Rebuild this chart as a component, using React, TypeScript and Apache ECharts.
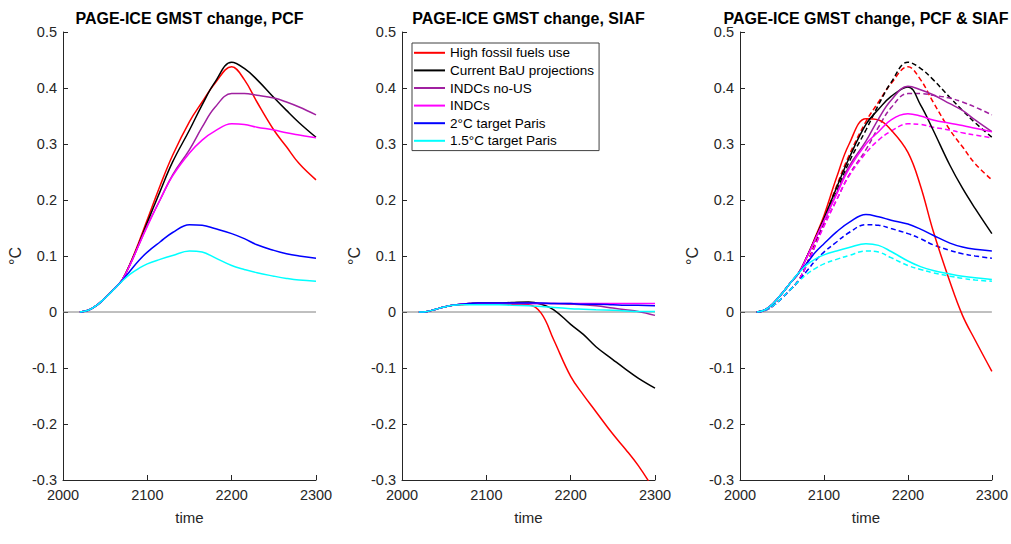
import React, { useEffect, useRef } from "react";
import * as echarts from "echarts";

const YEARS = [2020, 2030, 2040, 2050, 2060, 2070, 2080, 2090, 2100, 2115, 2130, 2150, 2165, 2180, 2200, 2215, 2230, 2250, 2265, 2280, 2300];

const NAMES = ["High fossil fuels use", "Current BaU projections", "INDCs no-US", "INDCs", "2°C target Paris", "1.5°C target Paris"];
const COLORS = ["#ff0000", "#000000", "#a020a0", "#ff00ff", "#0000ff", "#00ffff"];
const TITLES = ["PAGE-ICE GMST change, PCF", "PAGE-ICE GMST change, SIAF", "PAGE-ICE GMST change, PCF & SIAF"];

// PCF panel
const PCF_HIGH = [0, 0.003, 0.012, 0.025, 0.04, 0.057, 0.088, 0.125, 0.165, 0.225, 0.28, 0.34, 0.375, 0.408, 0.438, 0.415, 0.375, 0.325, 0.295, 0.265, 0.236];
const PCF_BAU = [0, 0.003, 0.012, 0.025, 0.04, 0.057, 0.087, 0.122, 0.16, 0.215, 0.268, 0.325, 0.37, 0.41, 0.446, 0.435, 0.415, 0.383, 0.36, 0.338, 0.312];
const PCF_NOUS = [0, 0.003, 0.012, 0.025, 0.04, 0.057, 0.086, 0.12, 0.155, 0.2, 0.245, 0.29, 0.33, 0.365, 0.39, 0.39, 0.387, 0.382, 0.375, 0.366, 0.352];
const PCF_INDC = [0, 0.003, 0.012, 0.025, 0.04, 0.057, 0.086, 0.12, 0.153, 0.2, 0.243, 0.284, 0.307, 0.323, 0.336, 0.335, 0.33, 0.325, 0.32, 0.316, 0.311];
const PCF_2C = [0, 0.003, 0.012, 0.025, 0.04, 0.056, 0.074, 0.092, 0.107, 0.125, 0.142, 0.156, 0.155, 0.149, 0.14, 0.131, 0.12, 0.11, 0.104, 0.1, 0.096];
const PCF_15C = [0, 0.003, 0.012, 0.025, 0.04, 0.055, 0.068, 0.078, 0.086, 0.094, 0.101, 0.109, 0.107, 0.097, 0.083, 0.076, 0.07, 0.064, 0.06, 0.057, 0.055];

// SIAF panel
const SIAF_HIGH = [0, 0.001, 0.005, 0.009, 0.012, 0.013, 0.014, 0.014, 0.014, 0.014, 0.014, 0.013, -0.002, -0.05, -0.115, -0.148, -0.178, -0.218, -0.245, -0.274, -0.32];
const SIAF_BAU = [0, 0.001, 0.005, 0.009, 0.012, 0.014, 0.015, 0.016, 0.016, 0.016, 0.017, 0.018, 0.014, 0.004, -0.022, -0.04, -0.062, -0.085, -0.102, -0.118, -0.136];
const SIAF_NOUS = [0, 0.001, 0.005, 0.009, 0.012, 0.014, 0.015, 0.015, 0.015, 0.015, 0.015, 0.015, 0.015, 0.015, 0.014, 0.013, 0.011, 0.007, 0.004, 0.001, -0.006];
const SIAF_INDC = [0, 0.001, 0.005, 0.009, 0.012, 0.014, 0.015, 0.015, 0.015, 0.015, 0.015, 0.015, 0.015, 0.015, 0.015, 0.015, 0.015, 0.015, 0.015, 0.015, 0.015];
const SIAF_2C = [0, 0.001, 0.005, 0.009, 0.012, 0.014, 0.015, 0.016, 0.016, 0.016, 0.016, 0.016, 0.016, 0.015, 0.015, 0.014, 0.014, 0.013, 0.012, 0.012, 0.011];
const SIAF_15C = [0, 0.001, 0.005, 0.009, 0.012, 0.013, 0.013, 0.013, 0.013, 0.013, 0.012, 0.011, 0.01, 0.008, 0.006, 0.005, 0.004, 0.003, 0.002, 0.001, 0.001];

// PCF & SIAF panel (solid lines)
const BOTH_HIGH = [0, 0.004, 0.016, 0.033, 0.052, 0.07, 0.1, 0.135, 0.172, 0.24, 0.3, 0.345, 0.343, 0.325, 0.285, 0.225, 0.145, 0.054, -0.006, -0.05, -0.106];
const BOTH_BAU = [0, 0.004, 0.016, 0.033, 0.052, 0.07, 0.1, 0.133, 0.167, 0.222, 0.275, 0.335, 0.362, 0.385, 0.402, 0.37, 0.325, 0.262, 0.221, 0.185, 0.14];
const BOTH_NOUS = [0, 0.004, 0.016, 0.033, 0.052, 0.07, 0.099, 0.131, 0.163, 0.212, 0.26, 0.305, 0.345, 0.378, 0.403, 0.397, 0.388, 0.372, 0.36, 0.343, 0.322];
const BOTH_INDC = [0, 0.004, 0.016, 0.033, 0.052, 0.07, 0.099, 0.131, 0.162, 0.21, 0.256, 0.3, 0.322, 0.343, 0.354, 0.35, 0.343, 0.337, 0.333, 0.328, 0.322];
const BOTH_2C = [0, 0.004, 0.016, 0.033, 0.052, 0.07, 0.088, 0.107, 0.122, 0.143, 0.16, 0.174, 0.17, 0.164, 0.157, 0.148, 0.137, 0.123, 0.116, 0.112, 0.109];
const BOTH_15C = [0, 0.004, 0.016, 0.033, 0.052, 0.07, 0.085, 0.095, 0.102, 0.109, 0.115, 0.122, 0.119, 0.108, 0.091, 0.081, 0.074, 0.068, 0.064, 0.061, 0.058];

const PCF = [PCF_HIGH, PCF_BAU, PCF_NOUS, PCF_INDC, PCF_2C, PCF_15C];
const SIAF = [SIAF_HIGH, SIAF_BAU, SIAF_NOUS, SIAF_INDC, SIAF_2C, SIAF_15C];
const BOTH = [BOTH_HIGH, BOTH_BAU, BOTH_NOUS, BOTH_INDC, BOTH_2C, BOTH_15C];

const X_MIN = 2000;
const X_MAX = 2300;
const Y_MIN = -0.3;
const Y_MAX = 0.5;

const FONT = "'Liberation Sans', Arial, Helvetica, sans-serif";
const AXIS_COLOR = "#262626";

const GRIDS = [
  { left: 63, top: 32, width: 253, height: 448 },
  { left: 402, top: 32, width: 253, height: 448 },
  { left: 740, top: 32, width: 252, height: 448 },
];

function pairs(values: number[]) {
  return YEARS.map((y, i) => [y, values[i]]);
}

export default function App() {
  const ref = useRef<HTMLDivElement>(null);

  useEffect(() => {
    if (!ref.current) return;
    const chart = echarts.init(ref.current, undefined, { renderer: "svg" });

    const series: any[] = [];
    const addLine = (g: number, name: string, color: string, values: number[], dashed: boolean) => {
      series.push({
        type: "line",
        name,
        xAxisIndex: g,
        yAxisIndex: g,
        data: pairs(values),
        color,
        showSymbol: false,
        symbol: "none",
        smooth: 0.4,
        clip: true,
        silent: true,
        lineStyle: { color, width: 1.5, type: dashed ? [5, 3] : "solid" },
        z: dashed ? 2 : 3,
      });
    };

    for (let g = 0; g < 3; g++) {
      series.push({
        type: "line",
        name: "zero" + g,
        xAxisIndex: g,
        yAxisIndex: g,
        data: [[X_MIN, 0], [X_MAX, 0]],
        showSymbol: false,
        symbol: "none",
        silent: true,
        lineStyle: { color: "#808080", width: 1 },
        z: 1,
      });
    }
    NAMES.forEach((n, i) => addLine(0, n, COLORS[i], PCF[i], false));
    NAMES.forEach((n, i) => addLine(1, n, COLORS[i], SIAF[i], false));
    NAMES.forEach((n, i) => addLine(2, n, COLORS[i], PCF[i], true));
    NAMES.forEach((n, i) => addLine(2, n, COLORS[i], BOTH[i], false));

    const option: any = {
      animation: false,
      textStyle: { fontFamily: FONT },
      title: GRIDS.map((gr, i) => ({
        text: TITLES[i],
        left: gr.left + gr.width / 2,
        textAlign: "center",
        top: 10.5,
        padding: 0,
        textStyle: { fontFamily: FONT, fontSize: 16, lineHeight: 15, fontWeight: "bold", color: "#000" },
      })),
      grid: GRIDS.map((gr) => ({ ...gr, containLabel: false })),
      legend: {
        orient: "vertical",
        left: 412,
        top: 43,
        data: NAMES,
        icon: "rect",
        itemWidth: 31,
        itemHeight: 2,
        itemGap: 0,
        padding: [1, 5, 1, 2],
        borderColor: "#404040",
        borderWidth: 1,
        backgroundColor: "#ffffff",
        selectedMode: false,
        textStyle: { fontFamily: FONT, fontSize: 13.5, color: "#000", lineHeight: 17.6 },
      },
      xAxis: GRIDS.map((_, i) => ({
        type: "value",
        gridIndex: i,
        min: X_MIN,
        max: X_MAX,
        interval: 100,
        name: "time",
        nameLocation: "middle",
        nameGap: 30,
        nameTextStyle: { fontFamily: FONT, fontSize: 15, color: AXIS_COLOR },
        axisLine: { show: true, onZero: false, lineStyle: { color: AXIS_COLOR, width: 1 } },
        axisTick: { show: true, inside: true, length: 5, lineStyle: { color: AXIS_COLOR } },
        axisLabel: {
          fontFamily: FONT,
          fontSize: 14.5,
          color: AXIS_COLOR,
          margin: 7,
          formatter: (v: number) => String(Math.round(v)),
        },
        splitLine: { show: false },
      })),
      yAxis: GRIDS.map((_, i) => ({
        type: "value",
        gridIndex: i,
        min: Y_MIN,
        max: Y_MAX,
        interval: 0.1,
        name: "°C",
        nameLocation: "middle",
        nameRotate: 90,
        nameGap: 40,
        nameTextStyle: { fontFamily: FONT, fontSize: 16, color: AXIS_COLOR },
        axisLine: { show: true, onZero: false, lineStyle: { color: AXIS_COLOR, width: 1 } },
        axisTick: { show: true, inside: true, length: 5, lineStyle: { color: AXIS_COLOR } },
        axisLabel: {
          fontFamily: FONT,
          fontSize: 14.5,
          lineHeight: 13,
          color: AXIS_COLOR,
          margin: 6,
          formatter: (v: number) => {
            const r = Math.round(v * 10) / 10;
            return r === 0 ? "0" : String(r);
          },
        },
        splitLine: { show: false },
      })),
      series,
    };

    chart.setOption(option);
    return () => chart.dispose();
  }, []);

  return (
    <div
      ref={ref}
      style={{ position: "fixed", left: 0, top: 0, width: 1011, height: 544, background: "#ffffff" }}
    />
  );
}
